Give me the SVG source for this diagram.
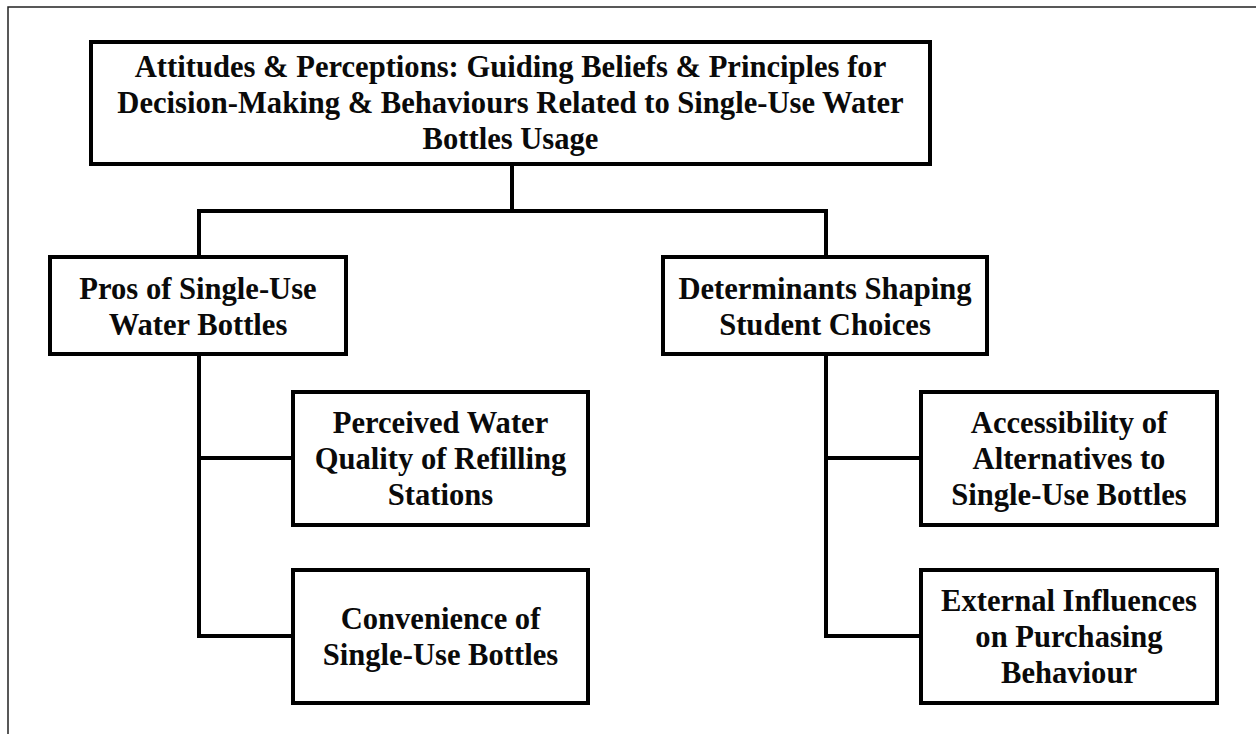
<svg xmlns="http://www.w3.org/2000/svg" width="1256" height="734" viewBox="0 0 1256 734">
<style>
.box{fill:#fff;stroke:#000;stroke-width:4}
.lbl{font-family:"Liberation Serif","Times New Roman",serif;font-weight:bold;font-size:30.6px;fill:#0a0a0a;text-anchor:middle}
.con{fill:none;stroke:#000;stroke-width:4;stroke-linecap:square}
.frame{fill:none;stroke:#222;stroke-width:1.5}
</style>
<rect width="1256" height="734" fill="#fff"/>
<path class="frame" d="M8,740 V7 H1262"/>
<g id="connectors">
<path class="con" d="M512,164 V211 M199,211 H826 M199,211 V257 M826,211 V257"/>
<path class="con" d="M199,354 V636 M199,458 H293 M199,636 H293"/>
<path class="con" d="M826,354 V636 M826,458 H921 M826,636 H921"/>
</g>
<g id="root">
<rect class="box" x="91" y="42" width="839" height="122"/>
<text class="lbl" x="510.5" y="77">Attitudes &amp; Perceptions: Guiding Beliefs &amp; Principles for</text>
<text class="lbl" x="510.5" y="113">Decision-Making &amp; Behaviours Related to Single-Use Water</text>
<text class="lbl" x="510.5" y="149">Bottles Usage</text>
</g>
<g id="pros">
<rect class="box" x="50" y="257" width="296" height="97"/>
<text class="lbl" x="198" y="298.5">Pros of Single-Use</text>
<text class="lbl" x="198" y="334.5">Water Bottles</text>
</g>
<g id="determinants">
<rect class="box" x="663" y="257" width="324" height="97"/>
<text class="lbl" x="825" y="298.5">Determinants Shaping</text>
<text class="lbl" x="825" y="334.5">Student Choices</text>
</g>
<g id="perceived">
<rect class="box" x="293" y="392" width="295" height="133"/>
<text class="lbl" x="440.5" y="433">Perceived Water</text>
<text class="lbl" x="440.5" y="469">Quality of Refilling</text>
<text class="lbl" x="440.5" y="505">Stations</text>
</g>
<g id="convenience">
<rect class="box" x="293" y="570" width="295" height="133"/>
<text class="lbl" x="440.5" y="628.5">Convenience of</text>
<text class="lbl" x="440.5" y="664.5">Single-Use Bottles</text>
</g>
<g id="accessibility">
<rect class="box" x="921" y="392" width="296" height="133"/>
<text class="lbl" x="1069" y="433">Accessibility of</text>
<text class="lbl" x="1069" y="469">Alternatives to</text>
<text class="lbl" x="1069" y="505">Single-Use Bottles</text>
</g>
<g id="external">
<rect class="box" x="921" y="570" width="296" height="133"/>
<text class="lbl" x="1069" y="611">External Influences</text>
<text class="lbl" x="1069" y="647">on Purchasing</text>
<text class="lbl" x="1069" y="683">Behaviour</text>
</g>
</svg>
